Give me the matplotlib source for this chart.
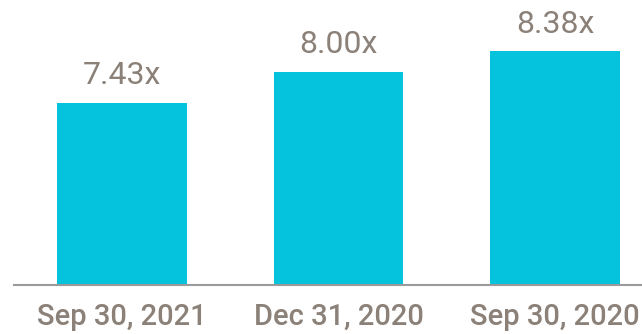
import matplotlib.pyplot as plt

dates = ["Sep 30, 2021", "Dec 31, 2020", "Sep 30, 2020"]
ratios = [7.43, 8.00, 8.38]

bar_color = "#05C3DD"
text_color = "#8B8178"

plt.rcParams['font.family'] = ['Roboto', 'DejaVu Sans']

fig = plt.figure(figsize=(6.42, 3.34), dpi=100)
ax = fig.add_axes([0.0214, 0.1467, 1.0117, 0.80])

x = range(len(dates))
bars = ax.bar(x, ratios, width=0.6, color=bar_color)
ax.set_xlim(-0.5, 2.5)
ax.set_ylim(4.07, 4.07 + 0.80 * 334 / 54.2)

# value labels above bars
for b, v in zip(bars, ratios):
    ax.annotate("%.2fx" % v, (b.get_x() + b.get_width() / 2, v),
                xytext=(0, 9), textcoords="offset points",
                ha="center", va="bottom", fontsize=23, color=text_color)

ax.set_xticks(list(x))
ax.set_xticklabels(dates, fontsize=21, color=text_color, fontweight="medium")
ax.tick_params(axis="x", length=0, pad=13)
ax.set_yticks([])
for s in ["top", "left", "right"]:
    ax.spines[s].set_visible(False)
ax.spines["bottom"].set_color("#9A9A9A")
ax.spines["bottom"].set_linewidth(1.5)

fig.savefig("out.png", dpi=100)
